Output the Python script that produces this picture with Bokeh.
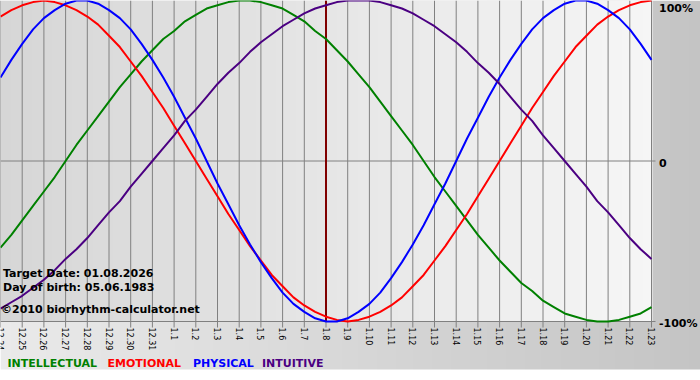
import math
import numpy as np
from bokeh.plotting import figure
from bokeh.models import Range1d, Label
from bokeh.core.properties import value
from bokeh.embed import file_html
from bokeh.resources import INLINE

# ---------------- data ----------------
days = ["12.24", "12.25", "12.26", "12.27", "12.28", "12.29", "12.30", "12.31",
        "1.1", "1.2", "1.3", "1.4", "1.5", "1.6", "1.7", "1.8", "1.9", "1.10",
        "1.11", "1.12", "1.13", "1.14", "1.15", "1.16", "1.17", "1.18", "1.19",
        "1.20", "1.21", "1.22", "1.23"]

# curve values read every half day (first value at 12.24, last at 1.23)
intellectual = [-0.54, -0.46, -0.37, -0.28, -0.19, -0.10, 0.00, 0.10, 0.19, 0.28,
                0.37, 0.46, 0.54, 0.62, 0.69, 0.76, 0.81, 0.87, 0.91, 0.95, 0.97,
                0.99, 1.00, 1.00, 0.99, 0.97, 0.95, 0.91, 0.87, 0.81, 0.76, 0.69,
                0.62, 0.54, 0.46, 0.37, 0.28, 0.19, 0.10, 0.00, -0.10, -0.19, -0.28,
                -0.37, -0.46, -0.54, -0.62, -0.69, -0.76, -0.81, -0.87, -0.91, -0.95,
                -0.97, -0.99, -1.00, -1.00, -0.99, -0.97, -0.95, -0.91]
emotional = [0.90, 0.94, 0.97, 0.99, 1.00, 0.99, 0.97, 0.94, 0.90, 0.85, 0.78, 0.71,
             0.62, 0.53, 0.43, 0.33, 0.22, 0.11, 0.00, -0.11, -0.22, -0.33, -0.43,
             -0.53, -0.62, -0.71, -0.78, -0.85, -0.90, -0.94, -0.97, -0.99, -1.00,
             -0.99, -0.97, -0.94, -0.90, -0.85, -0.78, -0.71, -0.62, -0.53, -0.43,
             -0.33, -0.22, -0.11, 0.00, 0.11, 0.22, 0.33, 0.43, 0.53, 0.62, 0.71,
             0.78, 0.85, 0.90, 0.94, 0.97, 0.99, 1.00]
physical = [0.52, 0.63, 0.73, 0.82, 0.89, 0.94, 0.98, 1.00, 1.00, 0.98, 0.94, 0.89,
            0.82, 0.73, 0.63, 0.52, 0.40, 0.27, 0.14, 0.00, -0.14, -0.27, -0.40,
            -0.52, -0.63, -0.73, -0.82, -0.89, -0.94, -0.98, -1.00, -1.00, -0.98,
            -0.94, -0.89, -0.82, -0.73, -0.63, -0.52, -0.40, -0.27, -0.14, 0.00,
            0.14, 0.27, 0.40, 0.52, 0.63, 0.73, 0.82, 0.89, 0.94, 0.98, 1.00, 1.00,
            0.98, 0.94, 0.89, 0.82, 0.73, 0.63]
intuitive = [-0.92, -0.88, -0.84, -0.79, -0.74, -0.68, -0.61, -0.55, -0.48, -0.40,
             -0.32, -0.25, -0.16, -0.08, 0.00, 0.08, 0.16, 0.25, 0.32, 0.40, 0.48,
             0.55, 0.61, 0.68, 0.74, 0.79, 0.84, 0.88, 0.92, 0.95, 0.97, 0.99, 1.00,
             1.00, 1.00, 0.99, 0.97, 0.95, 0.92, 0.88, 0.84, 0.79, 0.74, 0.68, 0.61,
             0.55, 0.48, 0.40, 0.32, 0.25, 0.16, 0.08, 0.00, -0.08, -0.16, -0.25,
             -0.32, -0.40, -0.48, -0.55, -0.61]

series_names = ["INTELLECTUAL", "EMOTIONAL", "PHYSICAL", "INTUITIVE"]
series_values = [intellectual, emotional, physical, intuitive]
series_colors = ["#008000", "#ff0000", "#0000ff", "#4b0082"]

target_day = "1.8"
info_lines = ["Target Date: 01.08.2026", "Day of birth: 05.06.1983",
              "\u00a92010 biorhythm-calculator.net"]
pct_values = [1, 0, -1]
pct_labels = ["100%", "0", "-100%"]

# ---------------- layout ----------------
W, H = 700, 380
PX_DAY = 21.7          # pixels per day
HALF = 160.5           # pixels per unit value
PLOT_W = 652           # plot area width in px
IMG_H = 369            # height of the grey picture area
LBL_SHIFT = -3.0       # baseline correction for Label annotations

def px(xp):
    return xp / PX_DAY

def py(yp):
    return 1.0 - yp / HALF

FONT_NAME = "DejaVu Sans"
FONT = value(FONT_NAME)

p = figure(width=W, height=H, x_range=Range1d(0, px(W)), y_range=Range1d(py(H), 1.0),
           output_backend="svg", toolbar_location=None, min_border=0,
           x_axis_location=None, y_axis_location=None, outline_line_color=None)
p.grid.visible = False
p.background_fill_color = "white"
p.border_fill_color = "white"


def hgrad(c0, c1, n=256):
    t = np.linspace(0.0, 1.0, n)
    img = np.empty((1, n), dtype=np.uint32)
    view = img.view(dtype=np.uint8).reshape((1, n, 4))
    for k in range(3):
        view[0, :, k] = np.round(c0[k] + (c1[k] - c0[k]) * t).astype(np.uint8)
    view[0, :, 3] = 255
    return img

# outer grey gradient
p.image_rgba(image=[hgrad((234, 234, 234), (196, 196, 196))], x=0, y=py(IMG_H),
             dw=px(W), dh=1.0 - py(IMG_H))
# plot area gradient
p.image_rgba(image=[hgrad((214, 214, 214), (246, 246, 246))], x=0, y=-1.0,
             dw=px(PLOT_W), dh=2.0)

xs = list(range(len(days)))
n_samples = len(physical)
xs_half = [k * (len(days) - 1) / (n_samples - 1) for k in range(n_samples)]

# vertical grid lines + ticks below
p.segment(x0=xs, y0=[1.0] * len(xs), x1=xs, y1=[py(327)] * len(xs),
          line_color="#808080", line_width=1)
# horizontal lines at 0 and -100%
p.segment(x0=[0, 0], y0=[0, -1], x1=[px(655), px(655)], y1=[0, -1],
          line_color="#808080", line_width=1)

# target date line
ti = days.index(target_day)
p.segment(x0=[ti], y0=[-1.0], x1=[ti], y1=[1.0], line_color="#800000", line_width=2)

# curves
for vals, col in zip(series_values, series_colors):
    p.line(xs_half, vals, line_color=col, line_width=2)

# x tick labels (rotated)
p.text(x=xs, y=[py(327)] * len(xs), text=days, angle=-math.pi / 2,
       text_align="left", text_baseline="middle", text_font=FONT,
       text_font_size="8px", text_color="black")

# right percent labels
pct_offsets = [10.7, 5.2, 4.7]
for v, lab, off in zip(pct_values, pct_labels, pct_offsets):
    yp = (1.0 - v) * HALF + off + LBL_SHIFT
    p.add_layout(Label(x=px(658.5), y=py(yp), text=lab, text_font=FONT_NAME,
                       text_font_size="11px", text_font_style="bold",
                       text_baseline="alphabetic", text_color="black"))

# info texts
info_pos = [(2.5, 276), (2.5, 290), (0.5, 311.5)]
for txt, (xp, yp) in zip(info_lines, info_pos):
    p.add_layout(Label(x=px(xp), y=py(yp + LBL_SHIFT), text=txt, text_font=FONT_NAME,
                       text_font_size="11px", text_font_style="bold",
                       text_baseline="alphabetic", text_color="black"))

# legend texts
legend_x = [7, 107, 192.5, 261.5]
for name, col, xp in zip(series_names, series_colors, legend_x):
    p.add_layout(Label(x=px(xp), y=py(366 + LBL_SHIFT), text=name, text_font=FONT_NAME,
                       text_font_size="11px", text_font_style="bold",
                       text_baseline="alphabetic", text_color=col))

html = file_html(p, INLINE)
html = html.replace("<body>", '<body style="margin:0;overflow:hidden;">', 1)
open("out.html", "w").write(html)
